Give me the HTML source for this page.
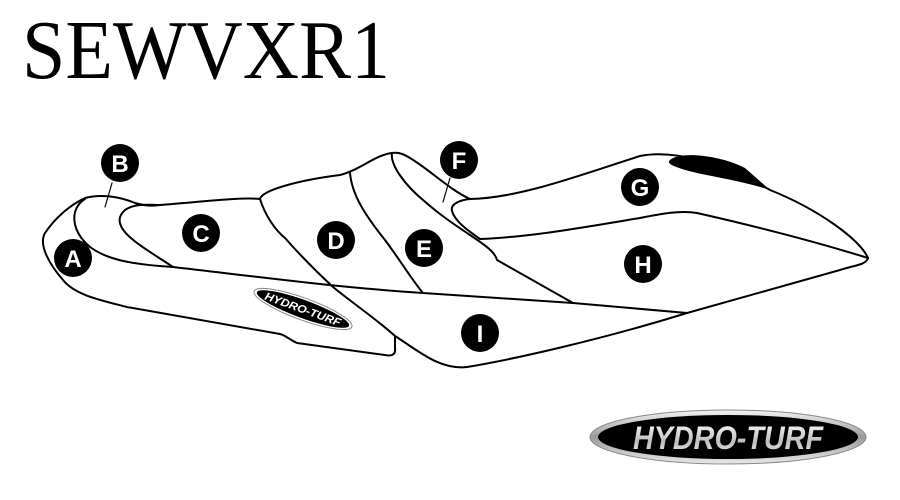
<!DOCTYPE html>
<html><head><style>html,body{margin:0;padding:0;background:#fff;width:900px;height:500px;overflow:hidden}</style></head>
<body>
<svg width="900" height="500" viewBox="0 0 900 500" xmlns="http://www.w3.org/2000/svg">
<defs>
<linearGradient id="sil" x1="0" y1="0" x2="0" y2="1">
<stop offset="0" stop-color="#f4f4f4"/><stop offset="0.5" stop-color="#9a9a9a"/><stop offset="1" stop-color="#e8e8e8"/>
</linearGradient>
<linearGradient id="txt" x1="0" y1="0" x2="0" y2="1">
<stop offset="0" stop-color="#ffffff"/><stop offset="0.6" stop-color="#bdbdbd"/><stop offset="1" stop-color="#eeeeee"/>
</linearGradient>
</defs>
<text x="22" y="78" font-family="Liberation Serif, serif" font-size="84" textLength="368" lengthAdjust="spacingAndGlyphs" fill="#000">SEWVXR1</text>
<g fill="none" stroke="#000" stroke-width="2" stroke-linejoin="round" stroke-linecap="round">
<!-- outer -->
<path d="M85,198 C100,194 118,196 135,203 C145,206 152,206 160,205 C200,202 240,197 260,199 C262,190 300,180 340,175 C360,170 375,155 392,153 C400,152 405,155 410,158 C430,170 450,190 470,199 C520,198 580,175 640,156 C670,150 720,160 770,190 C820,210 860,240 868,258 C866,265 855,265 840,270 L687,313 C600,340 510,360 467,367 C440,370 420,352 395,336 L395,348 C396,356 390,356 385,355 L297,343 C290,340 285,335 280,334 L127,307 C100,300 75,295 63,280 C50,265 38,245 45,233 C55,218 70,205 85,198 Z"/>
<!-- A/B line and long bottom line -->
<path d="M85,199 C70,208 70,230 90,247 C105,258 125,264 173,267 C260,277 333,287 423,293 L573,303 L687,313"/>
<!-- C -->
<path d="M173,267 C145,248 105,228 125,210 C135,203 150,205 160,205"/>
<!-- D left -->
<path d="M260,199 C265,215 275,230 285,238 C300,255 320,275 333,287 C355,305 375,318 395,336"/>
<!-- D/E -->
<path d="M350,173 C352,195 365,215 385,240 C400,260 412,280 423,293"/>
<!-- E/F -->
<path d="M392,153 C390,165 405,185 423,200 C440,215 455,225 470,235 C485,245 495,252 497,260 L573,303"/>
<!-- F/G inner -->
<path d="M470,199 C460,200 450,204 452,211 C455,222 470,232 480,239"/>
<!-- G/H -->
<path d="M480,239 C530,237 580,228 640,218 C660,214 680,210 697,213 C750,225 810,240 868,258"/>
<!-- leaders -->
<path d="M112,183 L105,207" stroke-width="1.2"/>
<path d="M450,178 L443,202" stroke-width="1.2"/>
</g>
<path d="M670,160 C680,151 720,155 745,168 L770,190 C740,180 700,175 682,169 C670,165 667,163 670,160 Z" fill="#000"/>
<g font-family="Liberation Sans, sans-serif" font-weight="bold" font-size="24" fill="#fff" text-anchor="middle">
<circle cx="120" cy="163" r="19" fill="#000"/><text x="120" y="172">B</text>
<circle cx="73" cy="258" r="19" fill="#000"/><text x="73" y="267">A</text>
<circle cx="201" cy="233" r="19" fill="#000"/><text x="201" y="242">C</text>
<circle cx="336" cy="240" r="19" fill="#000"/><text x="336" y="249">D</text>
<circle cx="424" cy="248" r="19" fill="#000"/><text x="424" y="257">E</text>
<circle cx="459" cy="160" r="19" fill="#000"/><text x="459" y="169">F</text>
<circle cx="640" cy="187" r="19" fill="#000"/><text x="640" y="196">G</text>
<circle cx="643" cy="264" r="19" fill="#000"/><text x="643" y="273">H</text>
<circle cx="480" cy="333" r="19" fill="#000"/><text x="480" y="342">I</text>
</g>
<!-- small logo -->
<g transform="translate(303,309) rotate(20)">
<ellipse rx="52" ry="11" fill="#fff" stroke="#888" stroke-width="1"/>
<ellipse rx="49" ry="9" fill="#000"/>
<text x="0" y="4" font-family="Liberation Sans, sans-serif" font-weight="bold" font-style="italic" font-size="11" fill="#fff" text-anchor="middle" textLength="80" lengthAdjust="spacingAndGlyphs">HYDRO-TURF</text>
</g>
<!-- big logo -->
<ellipse cx="728" cy="437" rx="138" ry="27" fill="url(#sil)" stroke="#888" stroke-width="1"/>
<ellipse cx="728" cy="437" rx="130" ry="22" fill="#000"/>
<text x="728" y="449" font-family="Liberation Sans, sans-serif" font-weight="bold" font-style="italic" font-size="32" fill="url(#txt)" text-anchor="middle" textLength="190" lengthAdjust="spacingAndGlyphs">HYDRO-TURF</text>
</svg>
</body></html>
